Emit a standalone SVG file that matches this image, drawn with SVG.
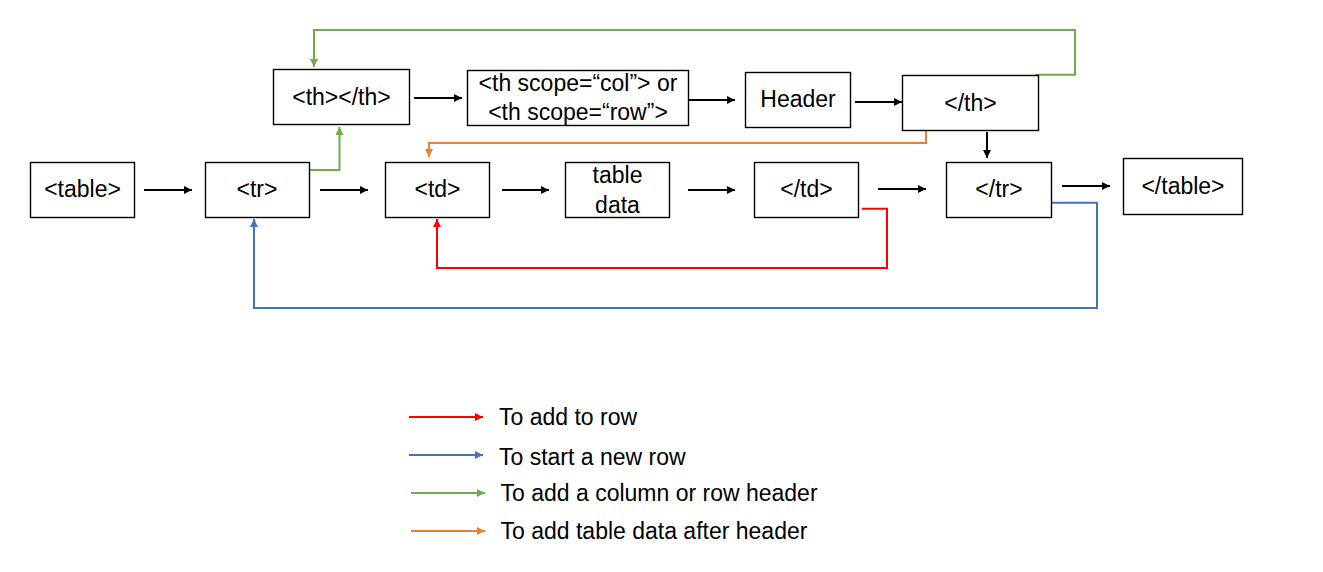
<svg xmlns="http://www.w3.org/2000/svg" width="1323" height="572" viewBox="0 0 1323 572">
<style>
.box{fill:#fff;stroke:#000;stroke-width:1.4}
text{font-family:"Liberation Sans",Arial,sans-serif;font-size:23px;fill:#000}
.c{text-anchor:middle}
.ln{fill:none;stroke-width:2}
.k{stroke:#000}
.r{stroke:#FF0000}
.b{stroke:#4472C4}
.g{stroke:#70AD47}
.o{stroke:#ED7D31}
</style>
<defs>
<marker id="ak" viewBox="0 0 10 10" refX="10" refY="5" markerWidth="9" markerHeight="8" markerUnits="userSpaceOnUse" orient="auto"><path d="M0,0L10,5L0,10z" fill="#000"/></marker>
<marker id="ar" viewBox="0 0 10 10" refX="10" refY="5" markerWidth="9" markerHeight="8" markerUnits="userSpaceOnUse" orient="auto"><path d="M0,0L10,5L0,10z" fill="#FF0000"/></marker>
<marker id="ab" viewBox="0 0 10 10" refX="10" refY="5" markerWidth="9" markerHeight="8" markerUnits="userSpaceOnUse" orient="auto"><path d="M0,0L10,5L0,10z" fill="#4472C4"/></marker>
<marker id="ag" viewBox="0 0 10 10" refX="10" refY="5" markerWidth="9" markerHeight="8" markerUnits="userSpaceOnUse" orient="auto"><path d="M0,0L10,5L0,10z" fill="#70AD47"/></marker>
<marker id="ao" viewBox="0 0 10 10" refX="10" refY="5" markerWidth="9" markerHeight="8" markerUnits="userSpaceOnUse" orient="auto"><path d="M0,0L10,5L0,10z" fill="#ED7D31"/></marker>
</defs>
<rect width="1323" height="572" fill="#fff"/>
<g id="connectors">
<path class="ln k" marker-end="url(#ak)" d="M144,190H192"/>
<path class="ln k" marker-end="url(#ak)" d="M320,190H368"/>
<path class="ln k" marker-end="url(#ak)" d="M502,190H549"/>
<path class="ln k" marker-end="url(#ak)" d="M688,190H735"/>
<path class="ln k" marker-end="url(#ak)" d="M878,189H926"/>
<path class="ln k" marker-end="url(#ak)" d="M1062,186H1110"/>
<path class="ln k" marker-end="url(#ak)" d="M414,98H462"/>
<path class="ln k" marker-end="url(#ak)" d="M689,100H735"/>
<path class="ln k" marker-end="url(#ak)" d="M855,102H902"/>
<path class="ln k" marker-end="url(#ak)" d="M987,132V158"/>
<path class="ln g" marker-end="url(#ag)" d="M310,170H339.5V127"/>
<path class="ln g" marker-end="url(#ag)" d="M1035,74.7H1075V30H314V67"/>
<path class="ln o" marker-end="url(#ao)" d="M926,131V143H429V157"/>
<path class="ln r" marker-end="url(#ar)" d="M862,208.7H887V268H437V219"/>
<path class="ln b" marker-end="url(#ab)" d="M1052,202.7H1097V308H254V219"/>
</g>
<g id="n-table"><rect class="box" x="30.5" y="162.5" width="104" height="55"/><text class="c" x="82.5" y="197">&lt;table&gt;</text></g>
<g id="n-tr"><rect class="box" x="205.5" y="162.5" width="104" height="55"/><text class="c" x="257" y="197">&lt;tr&gt;</text></g>
<g id="n-th"><rect class="box" x="273.5" y="69.5" width="136" height="55"/><text class="c" x="341.5" y="105">&lt;th&gt;&lt;/th&gt;</text></g>
<g id="n-scope"><rect class="box" x="467.5" y="70.5" width="221" height="55"/><text class="c" x="578" y="91">&lt;th scope=“col”&gt; or</text><text class="c" x="578" y="120">&lt;th scope=“row”&gt;</text></g>
<g id="n-header"><rect class="box" x="745.5" y="72.5" width="105" height="55"/><text class="c" x="798" y="107">Header</text></g>
<g id="n-cth"><rect class="box" x="902.5" y="75.5" width="136" height="55"/><text class="c" x="970.5" y="111">&lt;/th&gt;</text></g>
<g id="n-td"><rect class="box" x="385.5" y="162.5" width="104" height="55"/><text class="c" x="437.5" y="197">&lt;td&gt;</text></g>
<g id="n-data"><rect class="box" x="565.5" y="162.5" width="104" height="55"/><text class="c" x="617.5" y="182.5">table</text><text class="c" x="617.5" y="212.5">data</text></g>
<g id="n-ctd"><rect class="box" x="754.5" y="162.5" width="104" height="55"/><text class="c" x="806.5" y="197">&lt;/td&gt;</text></g>
<g id="n-ctr"><rect class="box" x="946.5" y="162.5" width="105" height="55"/><text class="c" x="999" y="197">&lt;/tr&gt;</text></g>
<g id="n-ctable"><rect class="box" x="1123.5" y="158.5" width="119" height="56"/><text class="c" x="1183" y="194">&lt;/table&gt;</text></g>
<g id="legend">
<path class="ln r" marker-end="url(#ar)" d="M409,417H483"/>
<text x="499" y="425">To add to row</text>
<path class="ln b" marker-end="url(#ab)" d="M409,455H483"/>
<text x="499" y="465">To start a new row</text>
<path class="ln g" marker-end="url(#ag)" d="M411,493H485"/>
<text x="500.5" y="501">To add a column or row header</text>
<path class="ln o" marker-end="url(#ao)" d="M411,531H485"/>
<text x="500.5" y="538.5">To add table data after header</text>
</g>
</svg>
